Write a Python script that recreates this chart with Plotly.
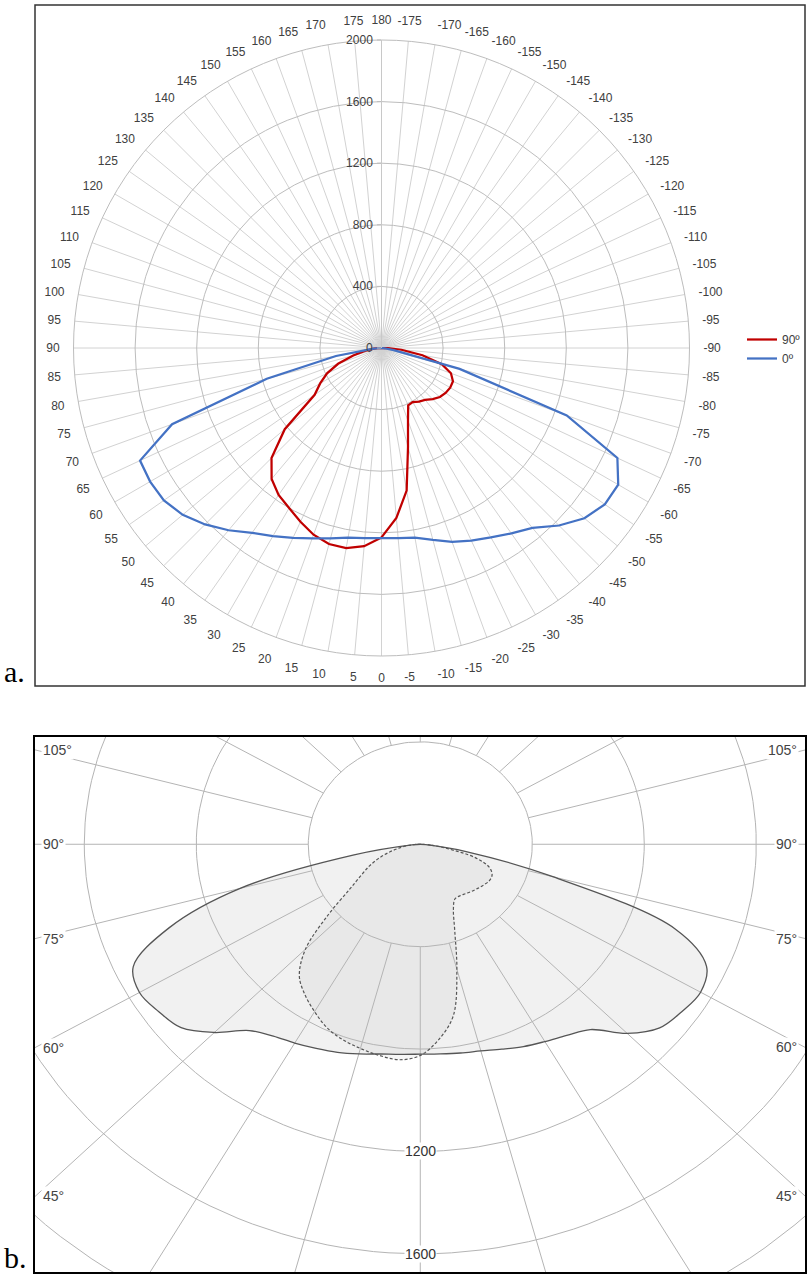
import math
import plotly.graph_objects as go

# ---------------- Panel a data (Excel radar, cd) ----------------
A_THETA = [0, 5, 10, 15, 20, 25, 30, 35, 40, 45, 50, 55, 60, 65, 70, 75, 80, 85, 90,
           95, 100, 105, 110, 115, 120, 125, 130, 135, 140, 145, 150, 155, 160, 165, 170, 175,
           180, 185, 190, 195, 200, 205, 210, 215, 220, 225, 230, 235, 240, 245, 250, 255,
           260, 265, 270, 275, 280, 285, 290, 295, 300, 305, 310, 315, 320, 325, 330, 335,
           340, 345, 350, 355]
A_TICK_TEXT = ["0", "5", "10", "15", "20", "25", "30", "35", "40", "45", "50", "55", "60",
               "65", "70", "75", "80", "85", "90", "95", "100", "105", "110", "115", "120",
               "125", "130", "135", "140", "145", "150", "155", "160", "165", "170", "175",
               "180", "-175", "-170", "-165", "-160", "-155", "-150", "-145", "-140", "-135",
               "-130", "-125", "-120", "-115", "-110", "-105", "-100", "-95", "-90", "-85",
               "-80", "-75", "-70", "-65", "-60", "-55", "-50", "-45", "-40", "-35", "-30",
               "-25", "-20", "-15", "-10", "-5"]
A_RED_90 = [1230, 1292, 1320, 1318, 1290, 1245, 1200, 1165, 1110, 1010, 820, 530, 460, 390,
            300, 190, 110, 50, 15,
            0, 0, 0, 0, 0, 0, 0, 0, 0, 0, 0, 0, 0, 0, 0, 0, 0, 0, 0, 0, 0, 0, 0, 0, 0, 0, 0,
            0, 0, 0, 0, 0, 0, 0, 0,
            40, 130, 270, 405, 480, 512, 515, 508, 495, 470, 440, 425, 405, 410, 503, 665,
            940, 1108]
A_BLUE_0 = [1235, 1240, 1250, 1280, 1315, 1360, 1410, 1465, 1545, 1620, 1685, 1725, 1735,
            1730, 1447, 771, 300, 60, 10,
            0, 0, 0, 0, 0, 0, 0, 0, 0, 0, 0, 0, 0, 0, 0, 0, 0, 0, 0, 0, 0, 0, 0, 0, 0, 0, 0,
            0, 0, 0, 0, 0, 0, 0, 0,
            5, 20, 80, 525, 1280, 1690, 1775, 1770, 1720, 1630, 1525, 1470, 1420, 1380, 1340,
            1290, 1250, 1240]
A_RADIAL_TICKS = [0, 400, 800, 1200, 1600, 2000]
A_NAMES = ["90º", "0º"]

# ---------------- Panel b data (photometric diagram) ----------------
B_ANGLES = [-90, -85, -80, -75, -70, -65, -60, -55, -50, -45, -40, -35, -30, -25, -20, -15,
            -10, -5, 0, 5, 10, 15, 20, 25, 30, 35, 40, 45, 50, 55, 60, 65, 70, 75, 80, 85, 90]
B_SOLID_0 = [0, 20, 170, 490, 970, 1128, 1156, 1140, 1116, 1045, 945, 912, 890, 872, 852,
             836, 828, 822, 820, 824, 832, 848, 865, 880, 897, 915, 950, 1040, 1115, 1140,
             1158, 1131, 955, 666, 240, 30, 0]
B_DASHED_90 = [0, 40, 100, 205, 262, 283, 285, 277, 268, 260, 252, 246, 247, 280, 360, 505,
               680, 765, 825, 845, 838, 826, 812, 790, 755, 718, 672, 580, 430, 310, 245, 200,
               155, 110, 70, 35, 0]
B_RINGS = [400, 800, 1200, 1600, 2000]
B_RING_LABELS = [1200, 1600]
B_SPOKES = [0, 15, 30, 45, 60, 75, 90, 105, 120, 135, 150, 165, 180, 195, 210, 225, 240,
            255, 270, 285, 300, 315, 330, 345]
B_SIDE_LABELS = [105, 90, 75, 60, 45]
B_XRANGE = [-1376, 1374]
B_YRANGE = [1671, -419]

W, H = 807, 1278


def px_x(p):
    return p / W


def px_y(p):
    return (H - p) / H


def to_xy(angles, rs):
    xs = [-r * math.sin(math.radians(a)) for a, r in zip(angles, rs)]
    ys = [r * math.cos(math.radians(a)) for a, r in zip(angles, rs)]
    return xs, ys


fig = go.Figure()

# ---- panel a traces ----
fig.add_trace(go.Scatterpolar(
    r=A_RED_90 + A_RED_90[:1], theta=A_THETA + A_THETA[:1], mode="lines",
    line=dict(color="#c00000", width=2.25), name=A_NAMES[0], subplot="polar"))
fig.add_trace(go.Scatterpolar(
    r=A_BLUE_0 + A_BLUE_0[:1], theta=A_THETA + A_THETA[:1], mode="lines",
    line=dict(color="#4472c4", width=2.25), name=A_NAMES[1], subplot="polar"))

# ---- panel b fills ----
sx, sy = to_xy(B_ANGLES, B_SOLID_0)
dx, dy = to_xy(B_ANGLES, B_DASHED_90)
fig.add_trace(go.Scatter(x=sx, y=sy, mode="lines", fill="toself", fillcolor="#f1f1f1",
                         line=dict(width=0, shape="spline", smoothing=1.0),
                         xaxis="x2", yaxis="y2", showlegend=False, hoverinfo="skip"))
fig.add_trace(go.Scatter(x=dx, y=dy, mode="lines", fill="toself",
                         fillcolor="rgba(0,0,0,0.035)",
                         line=dict(width=0, shape="spline", smoothing=1.0),
                         xaxis="x2", yaxis="y2", showlegend=False, hoverinfo="skip"))

# ---- panel b grid ----
gx, gy = [], []
for R in B_RINGS:
    for k in range(0, 361, 2):
        gx.append(-R * math.sin(math.radians(k)))
        gy.append(R * math.cos(math.radians(k)))
    gx.append(None)
    gy.append(None)
for a in B_SPOKES:
    for R in (B_RINGS[0], 4000):
        gx.append(-R * math.sin(math.radians(a)))
        gy.append(R * math.cos(math.radians(a)))
    gx.append(None)
    gy.append(None)
fig.add_trace(go.Scatter(x=gx, y=gy, mode="lines", line=dict(color="#b4b4b4", width=1),
                         xaxis="x2", yaxis="y2", showlegend=False, hoverinfo="skip"))

# ---- panel b outlines ----
fig.add_trace(go.Scatter(x=sx, y=sy, mode="lines",
                         line=dict(color="#555555", width=1.3, shape="spline", smoothing=1.0),
                         xaxis="x2", yaxis="y2", showlegend=False, hoverinfo="skip"))
fig.add_trace(go.Scatter(x=dx, y=dy, mode="lines",
                         line=dict(color="#555555", width=1.2, dash="3px,2px",
                                   shape="spline", smoothing=1.0),
                         xaxis="x2", yaxis="y2", showlegend=False, hoverinfo="skip"))

tick_font = dict(family="Liberation Sans Narrow, Arial Narrow, Liberation Sans, sans-serif",
                 size=12, color="#404040")

annotations = []
# ring labels in panel b
for R in B_RING_LABELS:
    annotations.append(dict(x=0, y=R, xref="x2", yref="y2", text=str(R), showarrow=False,
                            bgcolor="white", borderpad=0,
                            font=dict(family="Liberation Sans, Arial, sans-serif", size=14,
                                      color="#333333")))
# side angle labels in panel b
for A in B_SIDE_LABELS:
    yl = -B_XRANGE[0] / math.tan(math.radians(A))
    yr = B_XRANGE[1] / math.tan(math.radians(A))
    annotations.append(dict(x=0.008, y=yl, xref="x2 domain", yref="y2", text=f"{A}°",
                            xanchor="left", showarrow=False, bgcolor="white", borderpad=1,
                            font=dict(family="Liberation Sans, Arial, sans-serif", size=14,
                                      color="#444444")))
    annotations.append(dict(x=0.992, y=yr, xref="x2 domain", yref="y2", text=f"{A}°",
                            xanchor="right", showarrow=False, bgcolor="white", borderpad=1,
                            font=dict(family="Liberation Sans, Arial, sans-serif", size=14,
                                      color="#444444")))
# panel letters
annotations.append(dict(x=px_x(2), y=px_y(690), xref="paper", yref="paper", text="a.",
                        xanchor="left", yanchor="bottom", showarrow=False,
                        font=dict(family="Liberation Serif, Times New Roman, serif", size=30,
                                  color="black")))
annotations.append(dict(x=px_x(2), y=px_y(1276), xref="paper", yref="paper", text="b.",
                        xanchor="left", yanchor="bottom", showarrow=False,
                        font=dict(family="Liberation Serif, Times New Roman, serif", size=30,
                                  color="black")))

shapes = [dict(type="rect", xref="paper", yref="paper", x0=px_x(35), x1=px_x(805),
               y0=px_y(686), y1=px_y(5), line=dict(color="#333333", width=1.5))]

cx, cy, rad = 381.5, 348, 308
fig.update_layout(
    width=W, height=H, margin=dict(l=0, r=0, t=0, b=0),
    paper_bgcolor="white", plot_bgcolor="white",
    polar=dict(
        domain=dict(x=[px_x(cx - rad), px_x(cx + rad)], y=[px_y(cy + rad), px_y(cy - rad)]),
        bgcolor="white",
        angularaxis=dict(rotation=270, direction="clockwise", tickmode="array",
                         tickvals=A_THETA, ticktext=A_TICK_TEXT, showgrid=True,
                         gridcolor="#d2d2d2", gridwidth=1, showline=True, linecolor="#bdbdbd",
                         linewidth=1, ticks="outside", ticklen=11,
                         tickcolor="rgba(0,0,0,0)", tickfont=tick_font),
        radialaxis=dict(range=[0, 2000], tickmode="array", tickvals=A_RADIAL_TICKS,
                        angle=90, side="counterclockwise", tickangle=90, showgrid=True,
                        gridcolor="#bdbdbd", gridwidth=1, showline=True, linecolor="#c8c8c8",
                        ticks="outside", ticklen=4, tickcolor="#bdbdbd", tickfont=tick_font),
    ),
    xaxis2=dict(domain=[px_x(35), px_x(805)], anchor="y2", range=B_XRANGE, showgrid=False,
                zeroline=False, showticklabels=False, ticks="", showline=True, mirror=True,
                linecolor="black", linewidth=2),
    yaxis2=dict(domain=[px_y(1272), px_y(737)], anchor="x2", range=B_YRANGE, showgrid=False,
                zeroline=False, showticklabels=False, ticks="", showline=True, mirror=True,
                linecolor="black", linewidth=2),
    showlegend=True,
    legend=dict(x=px_x(742), y=px_y(325), xanchor="left", yanchor="top",
                bgcolor="rgba(0,0,0,0)", font=tick_font, tracegroupgap=0),
    annotations=annotations,
    shapes=shapes,
)

fig.write_html("out.html", config={"displayModeBar": False},
               post_script="document.body.style.margin='0';document.body.style.overflow='hidden';")
